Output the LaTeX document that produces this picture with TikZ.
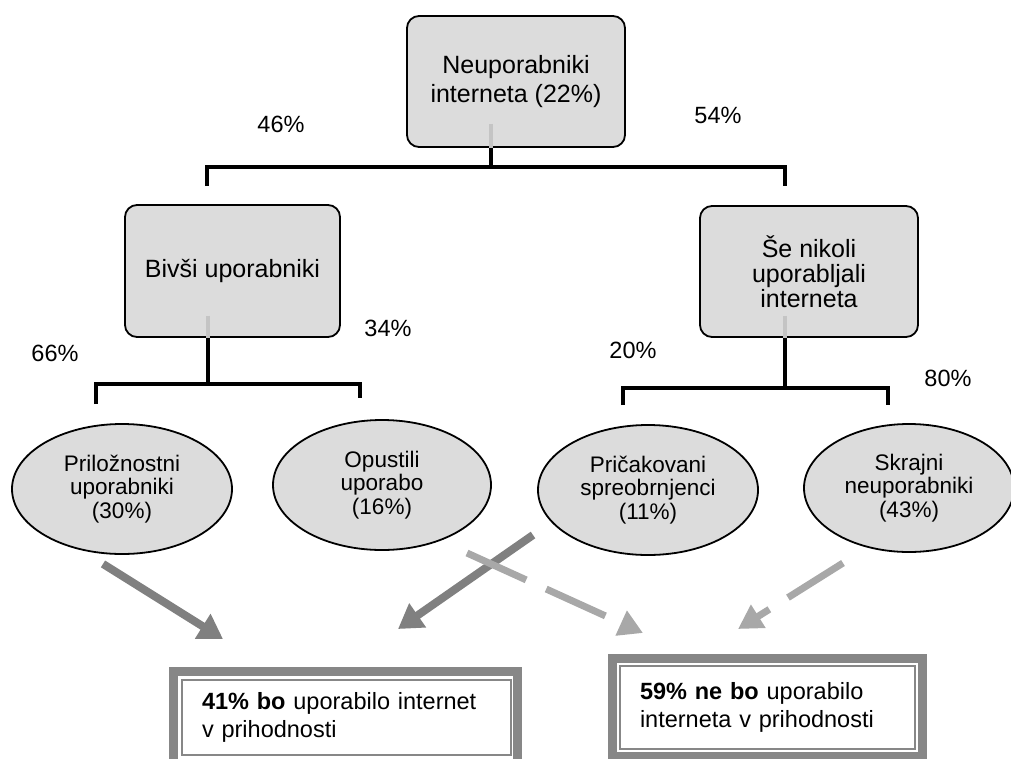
\documentclass[tikz,border=0pt]{standalone}
\usepackage{fontspec}
\setmainfont{Liberation Sans}
\usetikzlibrary{arrows.meta,shapes.geometric,calc}
\definecolor{boxfill}{HTML}{DCDCDC}
\definecolor{stubgray}{HTML}{C4C4C4}
\definecolor{darkarrow}{HTML}{808080}
\definecolor{lightarrow}{HTML}{A8A8A8}
\definecolor{framegray}{HTML}{878787}
\begin{document}
\begin{tikzpicture}[x=1pt,y=-1pt,
  rbox/.style={draw=black, line width=1.8pt, fill=boxfill, rounded corners=12pt, align=center, inner sep=0pt},
  oval/.style={ellipse, draw=black, line width=1.8pt, fill=boxfill, align=center, inner sep=0pt, font=\fontsize{22.5}{23.5}\selectfont},
  pct/.style={font=\fontsize{23.5}{27}\selectfont, inner sep=0pt},
  treeline/.style={draw=black, line width=4.5pt, line cap=butt, line join=miter},
  stubline/.style={draw=stubgray, line width=4pt},
  solidarrow/.style={draw=darkarrow, line width=8pt, -{Triangle[length=24pt,width=28pt]}},
  dasharrow/.style={draw=lightarrow, line width=7pt, dash pattern=on 65pt off 22pt, -{Triangle[length=24pt,width=26pt]}},
  result/.style={draw=framegray, line width=2pt, align=left, inner xsep=20pt, outer sep=0pt, font=\fontsize{23.5}{27.5}\selectfont},
  outerframe/.style={draw=framegray, line width=9pt}
]
\useasboundingbox (0,0) rectangle (1011,758);

% boxes
\node[rbox, minimum width=218pt, minimum height=131pt, font=\fontsize{25}{28.5}\selectfont] (top) at (516,81.5) {Neuporabniki\\interneta (22\%)};
\node[rbox, minimum width=215pt, minimum height=132pt, font=\fontsize{25}{28}\selectfont] (biv) at (232.5,271) {Bivši uporabniki};
\node[rbox, minimum width=218pt, minimum height=131pt, font=\fontsize{25}{25}\selectfont] (sen) at (809,271.5) {Še nikoli\\uporabljali\\interneta};

% tree connectors
\draw[stubline] ($(top.south)+(-25,-24)$) -- ($(top.south)+(-25,0)$);
\draw[treeline] ($(top.south)+(-25,0)$) -- ++(0,19) coordinate (tj);
\coordinate (tl) at (207,186);
\coordinate (tr) at (785,186);
\draw[treeline] (tl) |- (tj) -| (tr);

\draw[stubline] ($(biv.south)+(-24.5,-22)$) -- ($(biv.south)+(-24.5,0)$);
\draw[treeline] ($(biv.south)+(-24.5,0)$) -- ++(0,46) coordinate (bj);
\coordinate (bl) at (96,404);
\coordinate (br) at (360,398);
\draw[treeline] (bl) |- (bj) -| (br);

\draw[stubline] ($(sen.south)+(-24,-22)$) -- ($(sen.south)+(-24,0)$);
\draw[treeline] ($(sen.south)+(-24,0)$) -- ++(0,50) coordinate (sj);
\coordinate (sl) at (623,405);
\coordinate (sr) at (888,405);
\draw[treeline] (sl) |- (sj) -| (sr);

% percentages
\node[pct] (p46) at (281,124) {46\%};
\node[pct] (p54) at (718,115) {54\%};
\node[pct] (p66) at (55,353) {66\%};
\node[pct] (p34) at (388,328) {34\%};
\node[pct] (p20) at (633,350) {20\%};
\node[pct] (p80) at (948,378) {80\%};

% ellipses
\node[oval, minimum width=220pt, minimum height=130pt] (pri) at (122,489) {Priložnostni\\uporabniki\\(30\%)};
\node[oval, minimum width=218pt, minimum height=130pt] (opu) at (382,485) {Opustili\\uporabo\\(16\%)};
\node[oval, minimum width=220pt, minimum height=130pt] (pric) at (648,490) {Pričakovani\\spreobrnjenci\\(11\%)};
\node[oval, minimum width=210pt, minimum height=128pt] (skr) at (909,488) {Skrajni\\neuporabniki\\(43\%)};

% result boxes
\node[result, minimum width=328.5pt, minimum height=74.5pt, text width=288.5pt] (b41) at (346.25,717.25) {\textbf{41\% bo} uporabilo internet\\v prihodnosti};
\draw[outerframe] ($(b41.north west)+(-8.5,-9)$) rectangle ($(b41.south east)+(7,10)$);
\node[result, minimum width=295pt, minimum height=83pt, text width=254pt, inner xsep=20.5pt] (b59) at (767,707.5) {\textbf{59\% ne bo} uporabilo\\interneta v prihodnosti};
\draw[outerframe] ($(b59.north west)+(-7.5,-7.5)$) rectangle ($(b59.south east)+(8,7.5)$);

% arrows
\coordinate (a1s) at ($(pri.south)+(-19,9)$);
\coordinate (a1e) at (223,639);
\coordinate (a2s) at (533,535);
\coordinate (a2e) at (398,629);
\coordinate (a3s) at (467,553);
\coordinate (a3e) at (643,633);
\coordinate (a4s) at (843,563);
\coordinate (a4e) at (738,629);
\draw[solidarrow] (a1s) -- (a1e);
\draw[solidarrow] (a2s) -- (a2e);
\draw[dasharrow] (a3s) -- (a3e);
\draw[dasharrow] (a4s) -- (a4e);
\end{tikzpicture}
\end{document}
